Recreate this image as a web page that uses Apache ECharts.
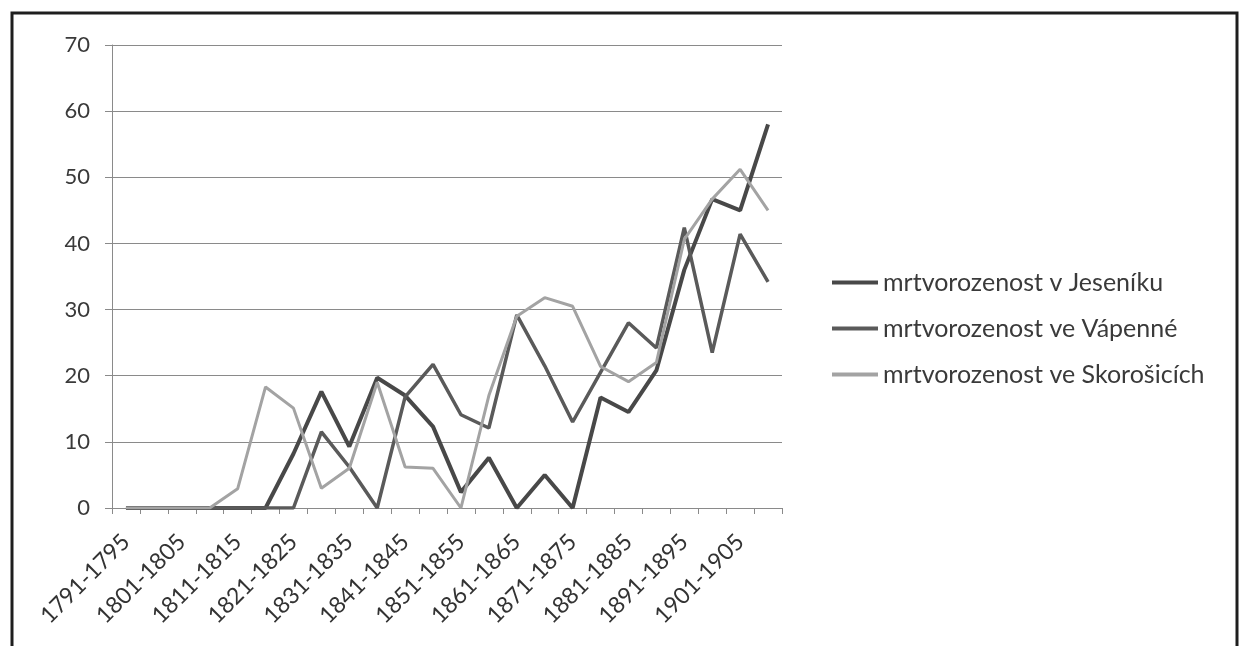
<!DOCTYPE html>
<html>
<head>
<meta charset="utf-8">
<script src="https://cdn.jsdelivr.net/npm/echarts@6/dist/echarts.min.js"></script>
<style>
html,body{margin:0;padding:0;background:#fff;}
#chart{width:1244px;height:646px;}
</style>
</head>
<body>
<div id="chart"></div>
<script>
var categories = ['1791-1795','1796-1800','1801-1805','1806-1810','1811-1815','1816-1820','1821-1825','1826-1830','1831-1835','1836-1840','1841-1845','1846-1850','1851-1855','1856-1860','1861-1865','1866-1870','1871-1875','1876-1880','1881-1885','1886-1890','1891-1895','1896-1900','1901-1905','1906-1910'];
var jesenik   = [0,0,0,0,0,0,8.2,17.6,9.3,19.7,17,12.3,2.4,7.6,0,5,0,16.7,14.5,20.8,36,46.7,45,58];
var vapenna   = [0,0,0,0,0,0,0,11.5,6.2,0,16.8,21.7,14.1,12.1,29.2,21.5,13,20.5,28,24.2,42.4,23.5,41.4,34.2];
var skorosice = [0,0,0,0,2.9,18.3,15.1,3.0,6.0,19,6.2,6.0,0,17,29,31.8,30.5,21.4,19.1,22,40.6,46.7,51.2,45];
var seriesNames = ['mrtvorozenost v Jeseníku','mrtvorozenost ve Vápenné','mrtvorozenost ve Skorošicích'];
var yTicks = {min:0, max:70, interval:10};

var chart = echarts.init(document.getElementById('chart'), null, {renderer:'canvas'});
var font = 'Lato, "Open Sans", sans-serif';
chart.setOption({
  animation:false,
  backgroundColor:'#fff',
  graphic:[{type:'rect', shape:{x:12,y:13,width:1225,height:700}, style:{fill:'none', stroke:'#1e1e1e', lineWidth:3}, silent:true}],
  grid:{left:112, right:462, top:45, bottom:138, containLabel:false},
  legend:{
    orient:'vertical', left:832, top:270, padding:0, itemWidth:46, itemHeight:4, itemGap:21, icon:'rect',
    textStyle:{fontFamily:font, fontSize:25, color:'#3a3a3a'},
    data:seriesNames
  },
  xAxis:{
    type:'category', data:categories, boundaryGap:true,
    axisLine:{lineStyle:{color:'#8a8a8a', width:1}},
    axisTick:{show:true, interval:0, length:6, lineStyle:{color:'#8a8a8a'}},
    axisLabel:{interval:1, rotate:45, fontFamily:font, fontSize:23, color:'#333', margin:30}
  },
  yAxis:{
    type:'value', min:yTicks.min, max:yTicks.max, interval:yTicks.interval,
    axisLine:{show:true, lineStyle:{color:'#8a8a8a', width:1}},
    axisTick:{show:true, length:7, lineStyle:{color:'#8a8a8a'}},
    axisLabel:{fontFamily:font, fontSize:22, color:'#3a3a3a', margin:22},
    splitLine:{lineStyle:{color:'#8a8a8a', width:1}}
  },
  series:[
    {name:seriesNames[0], type:'line', data:jesenik, symbol:'none', lineStyle:{width:4, color:'#484848'}, itemStyle:{color:'#484848'}},
    {name:seriesNames[1], type:'line', data:vapenna, symbol:'none', lineStyle:{width:3.5, color:'#5a5a5a'}, itemStyle:{color:'#5a5a5a'}},
    {name:seriesNames[2], type:'line', data:skorosice, symbol:'none', lineStyle:{width:3, color:'#a3a3a3'}, itemStyle:{color:'#a3a3a3'}}
  ]
});
</script>
</body>
</html>
